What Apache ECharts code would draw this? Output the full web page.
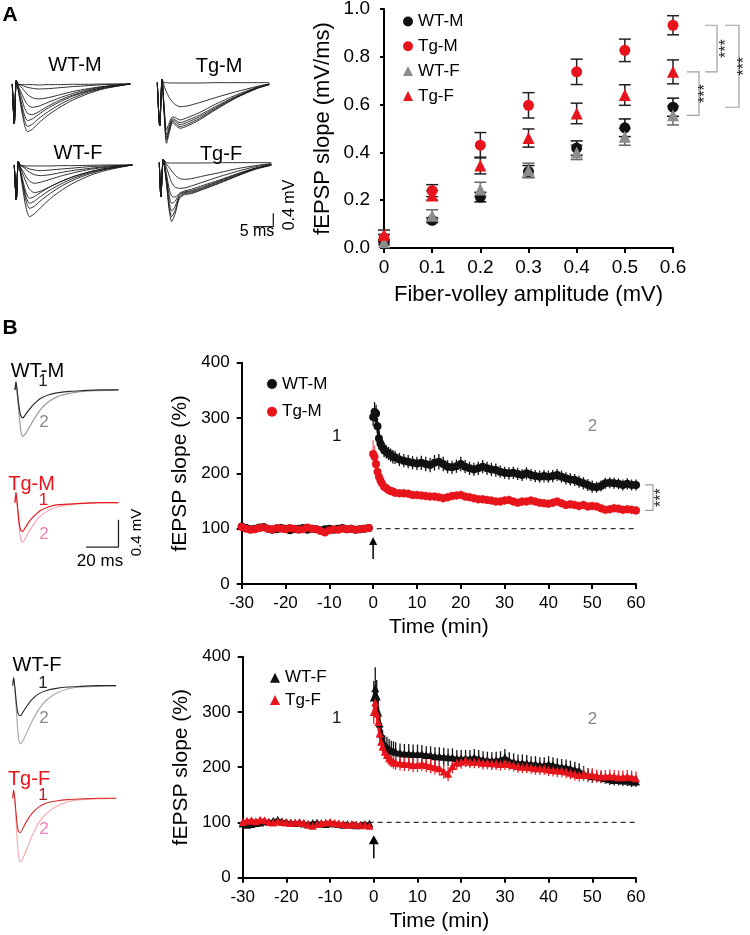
<!DOCTYPE html>
<html><head><meta charset="utf-8">
<script src="https://cdn.jsdelivr.net/npm/echarts@6/dist/echarts.min.js"></script>
<style>html,body{margin:0;padding:0;background:#fff;}#c{width:750px;height:935px;}</style>
</head><body><div id="c"></div>
<script>
// ================= DATA =================
// Panel A: input-output (fEPSP slope vs fiber-volley amplitude)
const fvAmp = [0, 0.1, 0.2, 0.3, 0.4, 0.5, 0.6];
const wtM_io = [0.024, 0.116, 0.213, 0.32, 0.418, 0.503, 0.589];
const wtM_ioSem = [0.01, 0.01, 0.02, 0.025, 0.03, 0.037, 0.038];
const tgM_io = [0.042, 0.24, 0.43, 0.597, 0.737, 0.827, 0.932];
const tgM_ioSem = [0.015, 0.025, 0.053, 0.053, 0.053, 0.047, 0.04];
const wtF_io = [0.024, 0.135, 0.245, 0.325, 0.40, 0.465, 0.555];
const wtF_ioSem = [0.01, 0.025, 0.03, 0.03, 0.03, 0.035, 0.04];
const tgF_io = [0.055, 0.22, 0.345, 0.46, 0.563, 0.64, 0.737];
const tgF_ioSem = [0.02, 0.02, 0.035, 0.038, 0.043, 0.043, 0.05];

// Panel A example traces (ms, mV)
const tA_WT = [0, 0.5, 1.0, 1.5, 2.2, 3, 3.8, 5, 6.5, 9, 12, 15, 19, 23, 29.5];
const wtM_A = [
 [0,-1.2,0.1,0,-0.02,-0.02,-0.02,-0.02,-0.03,-0.02,-0.02,-0.01,-0.01,0,0],
 [0,-1.2,0.1,-0.01,-0.03,-0.07,-0.1,-0.13,-0.15,-0.14,-0.11,-0.08,-0.05,-0.02,0],
 [0,-1.2,0.1,-0.02,-0.09,-0.2,-0.32,-0.41,-0.45,-0.41,-0.32,-0.23,-0.14,-0.07,0],
 [0,-1.2,0.1,-0.07,-0.25,-0.46,-0.62,-0.7,-0.67,-0.55,-0.41,-0.29,-0.17,-0.08,0],
 [0,-1.2,0.1,-0.1,-0.37,-0.7,-0.88,-0.92,-0.84,-0.66,-0.48,-0.34,-0.2,-0.1,0],
 [0,-1.2,0.1,-0.15,-0.52,-0.92,-1.1,-1.05,-0.92,-0.72,-0.53,-0.37,-0.22,-0.11,0],
 [0,-1.2,0.1,-0.18,-0.62,-1.07,-1.27,-1.21,-1.05,-0.83,-0.61,-0.43,-0.25,-0.13,0],
 [0,-1.2,0.1,-0.2,-0.7,-1.2,-1.43,-1.36,-1.18,-0.93,-0.69,-0.49,-0.29,-0.14,0]];
const wtF_A = [
 [0,-1.05,0.1,0,-0.02,-0.03,-0.03,-0.03,-0.03,-0.03,-0.02,-0.02,-0.01,0,0],
 [0,-1.05,0.1,-0.01,-0.03,-0.08,-0.12,-0.15,-0.17,-0.15,-0.12,-0.09,-0.05,-0.03,0],
 [0,-1.05,0.1,-0.02,-0.06,-0.14,-0.22,-0.29,-0.32,-0.29,-0.22,-0.16,-0.1,-0.05,0],
 [0,-1.05,0.1,-0.05,-0.19,-0.36,-0.48,-0.55,-0.52,-0.43,-0.32,-0.23,-0.13,-0.07,0],
 [0,-1.05,0.1,-0.08,-0.29,-0.54,-0.73,-0.83,-0.79,-0.65,-0.48,-0.34,-0.2,-0.1,0],
 [0,-1.05,0.1,-0.15,-0.5,-0.85,-1.0,-0.95,-0.83,-0.65,-0.48,-0.34,-0.2,-0.1,0],
 [0,-1.05,0.1,-0.17,-0.58,-0.98,-1.15,-1.09,-0.95,-0.75,-0.55,-0.39,-0.23,-0.12,0],
 [0,-1.05,0.1,-0.2,-0.65,-1.1,-1.3,-1.24,-1.08,-0.85,-0.62,-0.44,-0.26,-0.13,0],
 [0,-1.05,0.1,-0.23,-0.78,-1.32,-1.55,-1.47,-1.29,-1.01,-0.74,-0.53,-0.31,-0.16,0]];
const tA_TgM = [0, 0.6, 1.2, 1.7, 2.3, 3, 3.8, 4.5, 5.7, 7.5, 10.5, 14.5, 19.5, 25, 28];
const tgM_A = [
 [0,-1.3,0.1,0,0,-0.01,-0.01,-0.01,-0.01,-0.01,-0.01,0,0,0,0],
 [0,-1.3,0.1,-0.1,-0.28,-0.45,-0.58,-0.66,-0.72,-0.7,-0.6,-0.45,-0.28,-0.11,-0.04],
 [0,-1.3,0.1,-0.7,-1.42,-1.2,-1.02,-1.05,-1.12,-1.05,-0.9,-0.65,-0.38,-0.13,-0.04],
 [0,-1.3,0.1,-0.78,-1.57,-1.3,-1.08,-1.12,-1.2,-1.13,-0.98,-0.72,-0.42,-0.15,-0.05],
 [0,-1.3,0.1,-0.83,-1.67,-1.38,-1.12,-1.16,-1.26,-1.19,-1.03,-0.76,-0.44,-0.16,-0.05],
 [0,-1.3,0.1,-0.86,-1.72,-1.42,-1.16,-1.22,-1.32,-1.25,-1.08,-0.79,-0.46,-0.17,-0.06],
 [0,-1.3,0.1,-0.9,-1.82,-1.5,-1.2,-1.27,-1.37,-1.3,-1.12,-0.82,-0.47,-0.17,-0.06]];
const tA_TgF = [0, 0.4, 1.0, 1.8, 2.5, 3.1, 4, 5, 6.3, 8, 11, 15, 19.5, 24, 28];
const tgF_A = [
 [0,-1.02,0.1,0,-0.01,-0.01,-0.01,-0.01,-0.01,-0.01,-0.01,0,0,0,0],
 [0,-1.02,0.1,-0.05,-0.15,-0.25,-0.38,-0.47,-0.5,-0.48,-0.4,-0.3,-0.18,-0.09,-0.03],
 [0,-1.02,0.1,-0.15,-0.4,-0.6,-0.74,-0.77,-0.76,-0.7,-0.58,-0.42,-0.26,-0.12,-0.04],
 [0,-1.02,0.1,-0.35,-0.8,-1.0,-1.03,-0.92,-0.85,-0.8,-0.68,-0.52,-0.33,-0.16,-0.06],
 [0,-1.02,0.1,-0.45,-1.0,-1.22,-1.15,-0.95,-0.88,-0.84,-0.72,-0.55,-0.35,-0.17,-0.06],
 [0,-1.02,0.1,-0.55,-1.2,-1.45,-1.3,-1.0,-0.9,-0.87,-0.75,-0.57,-0.37,-0.18,-0.07],
 [0,-1.02,0.1,-0.6,-1.35,-1.62,-1.42,-1.05,-0.93,-0.9,-0.78,-0.6,-0.39,-0.19,-0.07],
 [0,-1.02,0.1,-0.65,-1.45,-1.77,-1.52,-1.08,-0.96,-0.93,-0.8,-0.62,-0.4,-0.2,-0.08]];
const scaleA_ms = 5, scaleA_mV = 0.4;

// Panel B: LTP time courses (% baseline)
const timeB = [-30,-29,-28,-27,-26,-25,-24,-23,-22,-21,-20,-19,-18,-17,-16,-15,-14,-13,-12,-11,-10,-9,-8,-7,-6,-5,-4,-3,-2,-1,
 0,0.33,0.67,1,1.33,1.67,2,2.5,3,3.5,4,4.5,5,
 6,7,8,9,10,11,12,13,14,15,16,17,18,19,20,21,22,23,24,25,26,27,28,29,30,31,32,33,34,35,36,37,38,39,40,41,42,43,44,45,46,47,48,49,50,51,52,53,54,55,56,57,58,59,60];
const wtM_ltp = [104,101,99,100,102,103,100,98,99,101,100,97,99,100,101,98,100,99,97,99,100,98,100,101,99,100,98,99,100,101,
 302,311,308,285,263,254,248,242,239,236,233,230,229,
 225,223,221,219,218,219,217,215,219,221,217,212,211,213,217,212,209,207,209,212,209,207,206,203,201,200,201,199,197,200,197,195,194,195,194,195,197,194,191,189,188,185,182,179,176,175,177,182,183,182,181,179,181,179,179];
const wtM_sem = [3,4,3,3,4,3,3,4,3,3,4,3,3,4,3,3,4,3,3,4,3,3,4,3,3,4,3,3,4,3,
 16,18,16,15,14,13,13,13,12,12,12,12,12,
 12,12,12,12,12,13,13,13,14,14,13,12,12,12,13,12,12,12,12,12,12,12,12,11,11,11,11,11,11,11,11,11,11,11,11,11,11,11,11,11,11,11,11,11,11,10,10,10,10,10,10,10,10,10,10];
const tgM_ltp = [103,100,98,99,101,102,100,99,101,100,99,101,100,98,99,102,100,99,96,93,97,99,98,100,99,100,98,99,100,101,
 235,230,217,203,194,187,182,176,173,170,168,167,165,
 164,164,163,161,161,160,159,158,158,157,155,157,159,160,161,158,157,155,153,153,152,151,149,149,151,152,149,147,149,149,151,149,147,146,145,147,149,146,143,144,143,141,143,140,141,140,137,134,135,137,136,134,135,134,133];
const tgM_sem = [3,3,4,3,3,3,4,3,3,3,4,3,3,3,4,3,3,3,4,3,3,3,4,3,3,3,4,3,3,3,
 25,20,14,11,10,9,8,8,8,8,8,8,8,
 8,8,8,8,8,8,8,8,8,8,8,8,8,8,8,8,8,8,8,8,8,8,8,8,8,8,8,8,8,8,8,8,8,8,8,8,8,8,8,8,8,8,8,8,8,8,8,8,8,8,8,8,8,8,8];
const wtF_ltp = [98,96,97,99,100,102,101,103,105,102,101,100,99,100,98,97,99,100,98,97,99,98,97,96,97,96,95,96,97,98,
 326,343,328,299,279,261,249,240,237,234,231,230,228,
 226,225,225,224,224,224,222,222,220,220,219,218,218,216,216,216,216,218,216,214,213,212,213,214,218,212,210,208,208,207,206,206,204,204,206,204,202,201,200,198,196,194,189,186,184,183,182,180,178,177,177,176,176,174,174];
const wtF_sem = [4,4,5,4,4,4,5,4,4,4,5,4,4,4,5,4,4,4,5,4,4,4,5,4,4,4,5,4,4,4,
 30,38,30,25,22,20,19,18,18,17,17,17,17,
 17,17,17,17,17,16,16,16,16,16,16,16,16,15,15,15,15,15,15,15,15,15,15,15,15,15,15,15,15,15,14,14,14,14,14,14,14,14,14,14,14,13,13,12,12,10,10,10,10,10,10,10,10,10,10];
const tgF_ltp = [101,103,104,102,105,104,101,100,102,101,100,99,100,101,99,96,94,97,99,100,101,99,98,97,96,97,96,95,96,94,
 300,317,297,282,261,246,237,228,222,216,213,210,208,
 207,206,206,204,204,206,204,202,200,198,192,188,202,208,210,212,210,210,210,208,208,207,207,206,207,206,204,202,201,201,200,198,198,198,196,195,194,194,192,190,188,186,188,186,186,184,183,183,184,183,182,182,183,182,180];
const tgF_sem = [5,5,6,5,5,5,6,5,5,5,6,5,5,5,6,5,5,5,6,5,5,5,6,5,5,5,6,5,5,5,
 22,25,20,17,15,14,13,13,13,13,13,13,13,
 13,13,13,13,13,13,13,13,13,13,13,13,13,13,13,12,12,12,12,12,12,12,12,12,12,12,12,12,12,12,12,12,12,12,12,12,12,12,12,12,12,12,12,12,12,12,12,12,12,12,12,12,12,12,12];
const baselineLevel = 100;
const tetanusTime = 0;
const arrowTop = [45, 85];
const arrowBottom = [35, 77];

// Panel B example traces (ms, mV)
const tB = [0, 0.6, 1.5, 2.5, 3.5, 4.8, 6.5, 9, 12, 16, 21, 27, 34, 42, 52, 64];
const wtM_B1 = [0,0.12,-0.05,-0.25,-0.37,-0.41,-0.36,-0.28,-0.2,-0.12,-0.07,-0.04,-0.02,-0.01,0,0];
const wtM_B2 = [0,0.12,-0.08,-0.35,-0.58,-0.68,-0.64,-0.54,-0.42,-0.28,-0.17,-0.09,-0.05,-0.02,-0.01,0];
const tgM_B1 = [0,0.15,-0.05,-0.28,-0.4,-0.42,-0.36,-0.27,-0.19,-0.11,-0.06,-0.03,-0.02,-0.01,0,0];
const tgM_B2 = [0,0.15,-0.06,-0.34,-0.52,-0.58,-0.52,-0.41,-0.3,-0.19,-0.11,-0.06,-0.03,-0.01,0,0];
const wtF_B1 = [0,0.12,-0.06,-0.3,-0.42,-0.44,-0.38,-0.29,-0.2,-0.12,-0.07,-0.04,-0.02,-0.01,0,0];
const wtF_B2 = [0,0.12,-0.1,-0.45,-0.75,-0.85,-0.8,-0.67,-0.52,-0.35,-0.21,-0.11,-0.05,-0.02,-0.01,0];
const tgF_B1 = [0,0.12,-0.06,-0.33,-0.48,-0.5,-0.43,-0.32,-0.22,-0.13,-0.07,-0.04,-0.02,-0.01,0,0];
const tgF_B2 = [0,0.12,-0.1,-0.5,-0.82,-0.93,-0.87,-0.72,-0.55,-0.36,-0.22,-0.12,-0.05,-0.02,-0.01,0];
const scaleB_ms = 20, scaleB_mV = 0.4;

// ================= STYLE =================
const FONT = "'Liberation Sans', Arial, Helvetica, sans-serif";
const RED = '#e8141c', BLACK = '#111', GRAY = '#8c8c8c';

const chart = echarts.init(document.getElementById('c'), null, {renderer: 'canvas'});

const zip = (xs, ys) => xs.map((x, i) => [x, ys[i]]);
const zip3 = (xs, ys, es) => xs.map((x, i) => [x, ys[i], es[i]]);

function capErr(color, half) {
  return function (params, api) {
    const x = api.value(0), y = api.value(1), e = api.value(2);
    const a = api.coord([x, y + e]), b = api.coord([x, y - e]);
    const st = {stroke: color, lineWidth: 1.5};
    return {type: 'group', children: [
      {type: 'line', shape: {x1: a[0], y1: a[1], x2: b[0], y2: b[1]}, style: st},
      {type: 'line', shape: {x1: a[0] - half, y1: a[1], x2: a[0] + half, y2: a[1]}, style: st},
      {type: 'line', shape: {x1: b[0] - half, y1: b[1], x2: b[0] + half, y2: b[1]}, style: st}
    ]};
  };
}
function barErr(color) {
  return function (params, api) {
    const x = api.value(0), y = api.value(1), e = api.value(2);
    const a = api.coord([x, y + e]), b = api.coord([x, y - e]);
    return {type: 'line', shape: {x1: a[0], y1: a[1], x2: b[0], y2: b[1]}, style: {stroke: color, lineWidth: 1.3}};
  };
}
const starStyle = {text: '***', fontSize: 16, fontFamily: FONT, fill: '#222', align: 'center', verticalAlign: 'middle', textAlign: 'center', textVerticalAlign: 'middle'};

const series = [];
// ---- A scatter ----
const ioGroups = [
  {name: 'WT-M', v: wtM_io, e: wtM_ioSem, color: BLACK, sym: 'circle', size: 11, ec: '#111'},
  {name: 'Tg-M', v: tgM_io, e: tgM_ioSem, color: RED, sym: 'circle', size: 11, ec: '#222'},
  {name: 'WT-F', v: wtF_io, e: wtF_ioSem, color: GRAY, sym: 'triangle', size: 12, ec: '#666'},
  {name: 'Tg-F', v: tgF_io, e: tgF_ioSem, color: RED, sym: 'triangle', size: 12, ec: '#222'}
];
ioGroups.forEach(g => {
  series.push({type: 'custom', xAxisIndex: 0, yAxisIndex: 0, renderItem: capErr(g.ec, 6),
    data: zip3(fvAmp, g.v, g.e), clip: false, silent: true, z: 2});
});
ioGroups.forEach(g => {
  series.push({type: 'scatter', name: g.name, xAxisIndex: 0, yAxisIndex: 0, symbol: g.sym, symbolSize: g.size,
    itemStyle: {color: g.color, opacity: 1}, data: zip(fvAmp, g.v), z: 3});
});
// significance brackets A (pairs compared at the largest fiber-volley amplitude)
const last = fvAmp.length - 1;
const bracketPairsA = [[tgM_io[last], tgF_io[last]], [tgM_io[last], wtM_io[last]], [tgF_io[last], wtF_io[last]]];
const bracketGeomA = [{x0: 32, x1: 44, s: 54}, {x0: 52, x1: 66, s: 72}, {x0: 14, x1: 26, s: 33}];
series.push({type: 'custom', xAxisIndex: 0, yAxisIndex: 0, clip: false, silent: true, z: 4,
  data: bracketPairsA.map(p => [fvAmp[last], p[0], p[1]]),
  renderItem: function (params, api) {
    const g = bracketGeomA[params.dataIndex];
    const a = api.coord([api.value(0), api.value(1)]), b = api.coord([api.value(0), api.value(2)]);
    const st = {stroke: '#a0a0a0', lineWidth: 1.2, fill: null};
    return {type: 'group', children: [
      {type: 'polyline', shape: {points: [[a[0] + g.x0, a[1]], [a[0] + g.x1, a[1]], [a[0] + g.x1, b[1]], [a[0] + g.x0, b[1]]]}, style: st},
      {type: 'text', x: a[0] + g.s, y: (a[1] + b[1]) / 2, rotation: Math.PI / 2, style: starStyle}
    ]};
  }});

// ---- B time courses ----
const splitIdx = timeB.findIndex(t => t >= tetanusTime);
function ltpPanel(ax, groups, sym, arrow, headLen, headW, bracket) {
  series.push({type: 'line', xAxisIndex: ax, yAxisIndex: ax, silent: true, symbol: 'none',
    data: [[timeB[0], baselineLevel], [timeB[timeB.length - 1], baselineLevel]],
    lineStyle: {type: [5, 4], color: '#333', width: 1.2}, z: 1});
  groups.forEach(g => {
    series.push({type: 'custom', xAxisIndex: ax, yAxisIndex: ax, renderItem: barErr(g.ec),
      data: zip3(timeB, g.v, g.e), silent: true, z: 2});
    const pts = zip(timeB, g.v);
    [pts.slice(0, splitIdx), pts.slice(splitIdx)].forEach(seg => {
      series.push({type: 'line', name: g.name, xAxisIndex: ax, yAxisIndex: ax, symbol: sym, symbolSize: 8,
        showSymbol: true, showAllSymbol: true, itemStyle: {color: g.color, opacity: 1}, lineStyle: {color: g.color, width: 3},
        data: seg, z: 3});
    });
  });
  series.push({type: 'custom', xAxisIndex: ax, yAxisIndex: ax, clip: false, silent: true, z: 4,
    data: [[tetanusTime, arrow[0]]],
    renderItem: function (params, api) {
      const b = api.coord([tetanusTime, arrow[0]]), t = api.coord([tetanusTime, arrow[1]]);
      return {type: 'group', children: [
        {type: 'line', shape: {x1: b[0], y1: b[1], x2: t[0], y2: t[1] + headLen}, style: {stroke: '#000', lineWidth: 1.5}},
        {type: 'polygon', shape: {points: [[t[0], t[1]], [t[0] - headW / 2, t[1] + headLen], [t[0] + headW / 2, t[1] + headLen]]}, style: {fill: '#000'}}
      ]};
    }});
  if (bracket) {
    const n = timeB.length - 1;
    series.push({type: 'custom', xAxisIndex: ax, yAxisIndex: ax, clip: false, silent: true, z: 4,
      data: [[timeB[n], groups[0].v[n], groups[1].v[n]]],
      renderItem: function (params, api) {
        const a = api.coord([api.value(0), api.value(1)]), b = api.coord([api.value(0), api.value(2)]);
        return {type: 'group', children: [
          {type: 'polyline', shape: {points: [[a[0] + 9, a[1]], [a[0] + 17, a[1]], [a[0] + 17, b[1]], [a[0] + 9, b[1]]]}, style: {stroke: '#a0a0a0', lineWidth: 1.2, fill: null}},
          {type: 'text', x: a[0] + 26, y: (a[1] + b[1]) / 2, rotation: Math.PI / 2, style: starStyle}
        ]};
      }});
  }
}
ltpPanel(1, [
  {name: 'WT-M|B', v: wtM_ltp, e: wtM_sem, color: BLACK, ec: '#111'},
  {name: 'Tg-M|B', v: tgM_ltp, e: tgM_sem, color: RED, ec: '#ef6a6e'}
], 'circle', arrowTop, 8, 8, true);
ltpPanel(2, [
  {name: 'WT-F|B', v: wtF_ltp, e: wtF_sem, color: BLACK, ec: '#111'},
  {name: 'Tg-F|B', v: tgF_ltp, e: tgF_sem, color: RED, ec: '#f0262e'}
], 'triangle', arrowBottom, 9, 10, false);

// ---- traces ----
function traceLine(ax, t, v, color, w) {
  series.push({type: 'line', xAxisIndex: ax, yAxisIndex: ax, data: zip(t, v), symbol: 'none', smooth: 0.25,
    lineStyle: {color: color, width: w}, silent: true, clip: false, z: 2});
}
wtM_A.forEach(v => traceLine(3, tA_WT, v, '#1a1a1a', 0.9));
tgM_A.forEach(v => traceLine(4, tA_TgM, v, '#1a1a1a', 0.9));
wtF_A.forEach(v => traceLine(5, tA_WT, v, '#1a1a1a', 0.9));
tgF_A.forEach(v => traceLine(6, tA_TgF, v, '#1a1a1a', 0.9));
// scale bar A (in Tg-F trace axes)
(function () {
  const ax = 28.5, ay = -1.92;
  series.push({type: 'line', xAxisIndex: 6, yAxisIndex: 6, symbol: 'none', silent: true, clip: false,
    data: [[ax - scaleA_ms, ay], [ax, ay], [ax, ay + scaleA_mV]], lineStyle: {color: '#222', width: 1.3}});
})();
traceLine(7, tB, wtM_B2, '#9a9a9a', 1.2); traceLine(7, tB, wtM_B1, '#2a2a2a', 1.2);
traceLine(8, tB, tgM_B2, '#f7a3b7', 1.2); traceLine(8, tB, tgM_B1, '#e41a1c', 1.2);
traceLine(9, tB, wtF_B2, '#a5a5a5', 1.1); traceLine(9, tB, wtF_B1, '#2a2a2a', 1.1);
traceLine(10, tB, tgF_B2, '#f5a8a8', 1.1); traceLine(10, tB, tgF_B1, '#d42a2a', 1.1);
(function () {
  const ax = 64, ay = -0.65;
  series.push({type: 'line', xAxisIndex: 8, yAxisIndex: 8, symbol: 'none', silent: true, clip: false,
    data: [[ax - scaleB_ms, ay], [ax, ay], [ax, ay + scaleB_mV]], lineStyle: {color: '#222', width: 1.3}});
})();

// ================= AXES =================
const axLine = {onZero: false, lineStyle: {color: '#000', width: 2}};
const axTick = {show: true, length: 5, lineStyle: {color: '#000', width: 2}};
const hiddenX = (gi, max) => ({type: 'value', gridIndex: gi, min: 0, max: max, show: false, axisLine: {onZero: false}});
const hiddenY = (gi, min, max) => ({type: 'value', gridIndex: gi, min: min, max: max, show: false, axisLine: {onZero: false}});

const xAxis = [
  {type: 'value', gridIndex: 0, min: 0, max: 0.6, interval: 0.1, axisLine: axLine, axisTick: axTick, splitLine: {show: false},
   axisLabel: {fontSize: 19, color: '#000', margin: 10, fontFamily: FONT},
   name: 'Fiber-volley amplitude (mV)', nameLocation: 'middle', nameGap: 36,
   nameTextStyle: {fontSize: 22, color: '#000', fontFamily: FONT}},
  {type: 'value', gridIndex: 1, min: -30, max: 60, interval: 10, axisLine: axLine, axisTick: axTick, splitLine: {show: false},
   axisLabel: {fontSize: 17, color: '#000', margin: 11, fontFamily: FONT},
   name: 'Time (min)', nameLocation: 'middle', nameGap: 33, nameTextStyle: {fontSize: 21, color: '#000', fontFamily: FONT}},
  {type: 'value', gridIndex: 2, min: -30, max: 60, interval: 10, axisLine: axLine, axisTick: axTick, splitLine: {show: false},
   axisLabel: {fontSize: 17, color: '#000', margin: 11, fontFamily: FONT},
   name: 'Time (min)', nameLocation: 'middle', nameGap: 33, nameTextStyle: {fontSize: 21, color: '#000', fontFamily: FONT}},
  hiddenX(3, 30), hiddenX(4, 30), hiddenX(5, 30), hiddenX(6, 30),
  hiddenX(7, 66), hiddenX(8, 66), hiddenX(9, 66), hiddenX(10, 66)
];
const yAxis = [
  {type: 'value', gridIndex: 0, min: 0, max: 1, interval: 0.2, axisLine: {show: true, onZero: false, lineStyle: {color: '#000', width: 2}},
   axisTick: {show: true, length: 4, lineStyle: {color: '#000', width: 2}}, splitLine: {show: false},
   axisLabel: {fontSize: 19, color: '#000', margin: 14, fontFamily: FONT, formatter: v => v.toFixed(1)},
   name: 'fEPSP slope (mV/ms)', nameLocation: 'middle', nameGap: 50, nameRotate: 90,
   nameTextStyle: {fontSize: 22, color: '#000', fontFamily: FONT}},
  {type: 'value', gridIndex: 1, min: 0, max: 400, interval: 100, axisLine: {show: true, onZero: false, lineStyle: {color: '#000', width: 2}},
   axisTick: axTick, splitLine: {show: false},
   axisLabel: {fontSize: 17, color: '#000', margin: 12, fontFamily: FONT},
   name: 'fEPSP slope (%)', nameLocation: 'middle', nameGap: 50, nameRotate: 90,
   nameTextStyle: {fontSize: 21, color: '#000', fontFamily: FONT}},
  {type: 'value', gridIndex: 2, min: 0, max: 400, interval: 100, axisLine: {show: true, onZero: false, lineStyle: {color: '#000', width: 2}},
   axisTick: axTick, splitLine: {show: false},
   axisLabel: {fontSize: 17, color: '#000', margin: 12, fontFamily: FONT},
   name: 'fEPSP slope (%)', nameLocation: 'middle', nameGap: 51, nameRotate: 90,
   nameTextStyle: {fontSize: 21, color: '#000', fontFamily: FONT}},
  hiddenY(3, -1.6, 0.2), hiddenY(4, -2.0, 0.2), hiddenY(5, -1.6, 0.2), hiddenY(6, -2.0, 0.2),
  hiddenY(7, -0.8, 0.2), hiddenY(8, -0.8, 0.2), hiddenY(9, -1.0, 0.2), hiddenY(10, -1.0, 0.2)
];
const G = (l, t, w, h) => ({left: l, top: t, width: w, height: h, containLabel: false, outerBoundsMode: 'none'});
const grid = [
  G(384, 9, 289, 239), G(241.7, 362.7, 394.3, 221.3), G(242.7, 656.7, 393.3, 221),
  G(12.3, 77.3, 120, 60), G(157.3, 76, 120, 73.3), G(14.3, 158.3, 120, 60), G(159.3, 156, 120, 73.3),
  G(15, 376.3, 106.7, 68.3), G(15, 489, 106.7, 68.3), G(12.7, 672, 106.7, 82), G(12.7, 784.6, 106.7, 82)
];

// ================= LEGENDS =================
const legendBase = {orient: 'vertical', selectedMode: false, itemWidth: 10, itemHeight: 10,
  textStyle: {fontSize: 17, color: '#000', fontFamily: FONT, lineHeight: 20}, formatter: n => n.split('|')[0]};
const legend = [
  Object.assign({}, legendBase, {left: 398, top: 6.5, itemGap: 4.8,
    data: [{name: 'WT-M', icon: 'circle'}, {name: 'Tg-M', icon: 'circle'}, {name: 'WT-F', icon: 'triangle'}, {name: 'Tg-F', icon: 'triangle'}]}),
  Object.assign({}, legendBase, {left: 262, top: 369, itemGap: 7.7,
    data: [{name: 'WT-M|B', icon: 'circle'}, {name: 'Tg-M|B', icon: 'circle'}]}),
  Object.assign({}, legendBase, {left: 265, top: 662.7, itemGap: 2.3,
    data: [{name: 'WT-F|B', icon: 'triangle'}, {name: 'Tg-F|B', icon: 'triangle'}]})
];

// ================= TEXT ANNOTATIONS =================
function T(x, y, text, size, color, opts) {
  opts = opts || {};
  return {type: 'text', x: x, y: y, rotation: opts.rot || 0, silent: true,
    style: {text: text, fontSize: size, fontFamily: FONT, fontWeight: opts.bold ? 'bold' : 'normal', fill: color,
      align: 'center', verticalAlign: 'middle', textAlign: 'center', textVerticalAlign: 'middle'}};
}
const graphic = [
  T(10, 15, 'A', 21, '#000', {bold: true}),
  T(10, 328, 'B', 21, '#000', {bold: true}),
  T(75, 65, 'WT-M', 20, '#000'), T(219, 66, 'Tg-M', 20, '#000'),
  T(78, 153, 'WT-F', 20, '#000'), T(221, 154, 'Tg-F', 20, '#000'),
  T(257, 232, '5 ms', 16, '#000'), T(290, 205, '0.4 mV', 16, '#000', {rot: Math.PI / 2}),
  T(37.5, 371, 'WT-M', 20, '#000'), T(43, 381, '1', 17, '#222'), T(44, 422.5, '2', 17, '#8a8a8a'),
  T(31.5, 484, 'Tg-M', 20, RED), T(43.5, 500, '1', 17, RED), T(44, 534, '2', 17, '#f27fb5'),
  T(100, 561, '20 ms', 17, '#000'), T(136.7, 532.5, '0.4 mV', 15, '#000', {rot: Math.PI / 2}),
  T(37, 665, 'WT-F', 20, '#000'), T(43, 683, '1', 17, '#222'), T(44, 718, '2', 17, '#8a8a8a'),
  T(29, 779, 'Tg-F', 20, RED), T(43, 795, '1', 17, '#b52020'), T(44, 829, '2', 17, '#f27fb5'),
  T(336.7, 436, '1', 17, '#111'), T(592.5, 426, '2', 17, '#8a8a8a'),
  T(336.7, 718.5, '1', 17, '#111'), T(592.5, 719, '2', 17, '#8a8a8a')
];

chart.setOption({
  animation: false,
  backgroundColor: '#fff',
  textStyle: {fontFamily: FONT},
  grid: grid, xAxis: xAxis, yAxis: yAxis, legend: legend, graphic: graphic, series: series
});
</script></body></html>
